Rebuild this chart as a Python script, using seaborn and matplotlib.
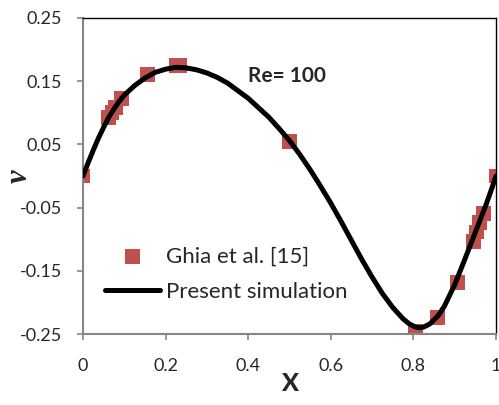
import matplotlib
matplotlib.use("Agg")
import pandas as pd
import seaborn as sns
import matplotlib.pyplot as plt

# Ghia et al. reference data (v along horizontal centreline, Re = 100)
ghia_x = [0.0, 0.0625, 0.0703, 0.0781, 0.0938, 0.1563, 0.2266, 0.2344,
          0.5, 0.8047, 0.8594, 0.9063, 0.9453, 0.9531, 0.9609, 0.9688, 1.0]
ghia_v = [0.0, 0.09233, 0.10091, 0.1089, 0.12317, 0.16077, 0.17507, 0.17527,
          0.05454, -0.24533, -0.22445, -0.16914, -0.10313, -0.08864, -0.07391,
          -0.05906, 0.0]

# present simulation
sim_x = [0.0, 0.0125, 0.025, 0.0375, 0.05, 0.0625, 0.075, 0.0875, 0.1, 0.125,
         0.15, 0.175, 0.2, 0.225, 0.25, 0.275, 0.3, 0.325, 0.35, 0.375, 0.4,
         0.425, 0.45, 0.475, 0.5, 0.525, 0.55, 0.575, 0.6, 0.625, 0.65, 0.675,
         0.7, 0.725, 0.75, 0.775, 0.79, 0.805, 0.815, 0.825, 0.84, 0.86, 0.875,
         0.9, 0.925, 0.95, 0.975, 0.9875, 1.0]
sim_v = [0.0, 0.021, 0.041, 0.060, 0.077, 0.093, 0.106, 0.118, 0.128, 0.143,
         0.155, 0.164, 0.169, 0.172, 0.171, 0.168, 0.163, 0.156, 0.147, 0.135,
         0.123, 0.108, 0.093, 0.075, 0.056, 0.034, 0.010, -0.016, -0.043,
         -0.072, -0.102, -0.132, -0.160, -0.186, -0.208, -0.226, -0.234,
         -0.239, -0.240, -0.239, -0.234, -0.221, -0.206, -0.172, -0.131,
         -0.089, -0.047, -0.024, 0.0]

ghia = pd.DataFrame({"x": ghia_x, "v": ghia_v})
sim = pd.DataFrame({"x": sim_x, "v": sim_v})

sns.set_style("white")
plt.rcParams['font.family'] = ['Lato', 'DejaVu Sans']

fig = plt.figure(figsize=(4.99, 4.05), dpi=100)
ax = fig.add_axes([0.1663, 0.1753, 0.8277, 0.7803])

sns.scatterplot(data=ghia, x="x", y="v", marker="s", s=115, color="#C0504D",
                edgecolor="none", label="Ghia et al. [15]", ax=ax, zorder=2)
sns.lineplot(data=sim, x="x", y="v", color="black", linewidth=3.6,
             label="Present simulation", ax=ax, zorder=3)

ax.set_xlim(0, 1)
ax.set_ylim(-0.25, 0.25)
ax.set_xticks([0, 0.2, 0.4, 0.6, 0.8, 1.0])
ax.set_xticklabels(["0", "0.2", "0.4", "0.6", "0.8", "1"])
ax.set_yticks([-0.25, -0.15, -0.05, 0.05, 0.15, 0.25])
ax.set_yticklabels(["-0.25", "-0.15", "-0.05", "0.05", "0.15", "0.25"])
ax.tick_params(axis="both", labelsize=13, length=4, width=1.2,
               color="#868686", direction="out")
ax.tick_params(axis="x", pad=13)
ax.tick_params(axis="y", pad=11)
ax.tick_params(left=True, bottom=True)

for side in ["left", "bottom"]:
    ax.spines[side].set_color("#868686")
    ax.spines[side].set_linewidth(1.5)
for side in ["top", "right"]:
    ax.spines[side].set_color("black")
    ax.spines[side].set_linewidth(1.0)

ax.set_xlabel("X", fontsize=18, fontweight=900)
ax.xaxis.set_label_coords(0.5, -0.12)
ax.set_ylabel("v", fontsize=22, fontweight="bold", fontstyle="italic",
              family="Liberation Serif")
ax.yaxis.set_label_coords(-0.12, 0.5)

ax.text(0.4, 0.817, "Re= 100", transform=ax.transAxes, fontsize=15,
        fontweight="bold", va="center", ha="left")

ax.legend(loc="center left", bbox_to_anchor=(0.053, 0.19), frameon=False,
          fontsize=16, handlelength=2.5, handletextpad=0.25, labelspacing=0.68,
          borderpad=0, borderaxespad=0, markerscale=1.0)

fig.savefig("out.png", dpi=100)
